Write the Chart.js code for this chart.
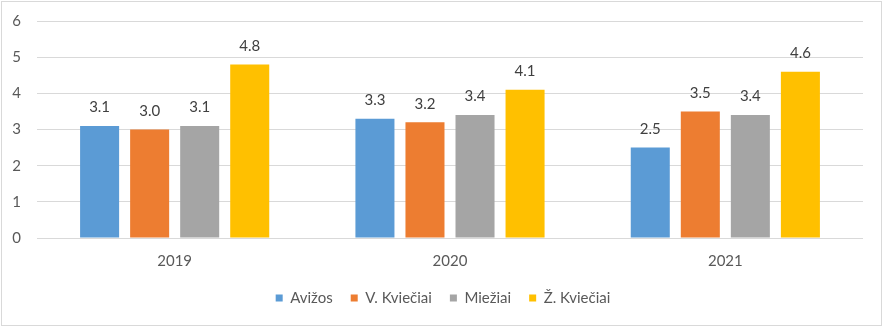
<!DOCTYPE html>
<html>
<head>
<meta charset="utf-8">
<script src="https://cdn.jsdelivr.net/npm/chart.js@4/dist/chart.umd.min.js"></script>
<style>
  html, body { margin: 0; padding: 0; background: #ffffff; }
  #wrap { width: 886px; height: 328px; position: relative; }
</style>
</head>
<body>
<div id="wrap"><canvas id="chart" width="886" height="328"></canvas></div>
<script>
// Yields per year and crop
const years = ['2019', '2020', '2021'];
const avizos = [3.1, 3.3, 2.5];
const vKvieciai = [3.0, 3.2, 3.5];
const miežiai = [3.1, 3.4, 3.4];
const zKvieciai = [4.8, 4.1, 4.6];
const seriesNames = ['Avižos', 'V. Kviečiai', 'Miežiai', 'Ž. Kviečiai'];
const seriesColors = ['#5B9BD5', '#ED7D31', '#A5A5A5', '#FFC000'];
const yTicks = [0, 1, 2, 3, 4, 5, 6];

const FONT = 'Lato, "Open Sans", sans-serif';
const TEXT = '#595959';

// Value labels above each bar
const valueLabels = {
  id: 'valueLabels',
  afterDatasetsDraw(chart) {
    const ctx = chart.ctx;
    ctx.save();
    ctx.font = '15px ' + FONT;
    ctx.fillStyle = '#404040';
    ctx.textAlign = 'center';
    ctx.textBaseline = 'middle';
    chart.data.datasets.forEach((ds, i) => {
      chart.getDatasetMeta(i).data.forEach((bar, j) => {
        ctx.fillText(ds.data[j].toFixed(1), bar.x, bar.y - 18.5);
      });
    });
    ctx.restore();
  }
};

// Centre the legend across the whole canvas, not just the padded area
const legendSpan = {
  id: 'legendSpan',
  afterLayout(chart) {
    chart.legend.left = 0;
    chart.legend.right = chart.width;
  }
};

// Thin outer frame around the chart
const frame = {
  id: 'frame',
  afterDraw(chart) {
    const ctx = chart.ctx;
    ctx.save();
    ctx.strokeStyle = '#D9D9D9';
    ctx.lineWidth = 1;
    ctx.strokeRect(1.5, 1.5, 880, 324);
    ctx.restore();
  }
};

const seriesData = [avizos, vKvieciai, miežiai, zKvieciai];

new Chart(document.getElementById('chart'), {
  type: 'bar',
  data: {
    labels: years,
    datasets: seriesData.map((d, i) => ({
      label: seriesNames[i],
      data: d,
      backgroundColor: seriesColors[i],
      borderWidth: 0,
      categoryPercentage: 0.727,
      barPercentage: 0.78
    }))
  },
  options: {
    responsive: false,
    animation: false,
    layout: { padding: { top: 21, right: 23, bottom: 12.5, left: 0 } },
    scales: {
      x: {
        grid: { display: false, drawTicks: false },
        border: { display: false },
        ticks: { color: TEXT, font: { family: FONT, size: 15 }, padding: 14 },
        afterFit(scale) {
          scale.height = 34.5;
          scale.paddingLeft = 0;
          scale.paddingRight = 0;
        }
      },
      y: {
        min: 0,
        max: 6,
        grid: { color: '#D9D9D9', drawTicks: false },
        border: { display: false },
        afterBuildTicks(scale) { scale.ticks = yTicks.map(v => ({ value: v })); },
        ticks: { color: TEXT, font: { family: FONT, size: 15 }, padding: 16 },
        afterFit(scale) {
          scale.width = 37;
          scale.paddingTop = 0;
          scale.paddingBottom = 0;
        }
      }
    },
    plugins: {
      legend: {
        position: 'bottom',
        labels: {
          color: TEXT,
          font: { family: FONT, size: 15 },
          boxWidth: 7,
          boxHeight: 7,
          padding: 18
        }
      },
      tooltip: { enabled: false }
    }
  },
  plugins: [valueLabels, legendSpan, frame]
});
</script>
</body>
</html>
